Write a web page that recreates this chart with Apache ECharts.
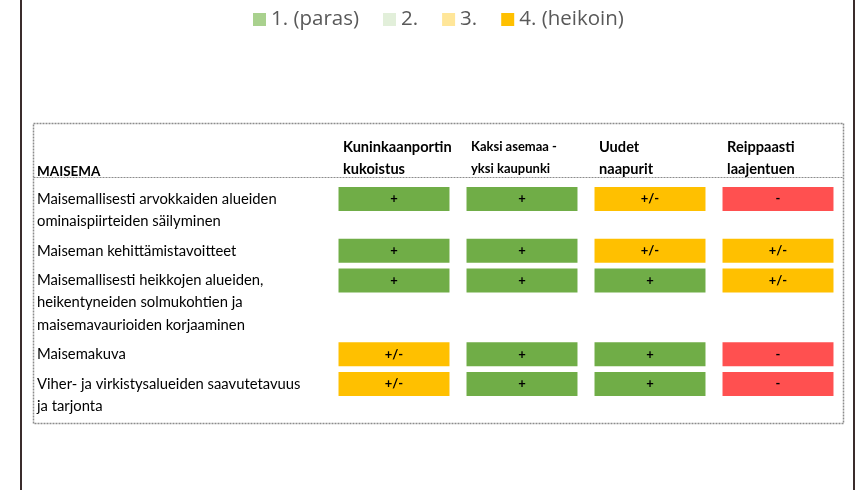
<!DOCTYPE html>
<html>
<head>
<meta charset="utf-8">
<script src="https://cdn.jsdelivr.net/npm/echarts@6/dist/echarts.min.js"></script>
<style>
  html, body { margin: 0; padding: 0; background: #fff; }
  #chart { width: 856px; height: 490px; }
</style>
</head>
<body>
<div id="chart"></div>
<script>
// legend classes
var legendNames = ['1. (paras)', '2.', '3.', '4. (heikoin)'];
var legendColors = ['#a9d18e', '#e2efda', '#ffe699', '#ffc000'];

// columns (scenarios)
var scenarios = ['Kuninkaanportin\nkukoistus', 'Kaksi asemaa -\nyksi kaupunki', 'Uudet\nnaapurit', 'Reippaasti\nlaajentuen'];

// rows, each split in its text lines
var criteria = [
  ['Maisemallisesti arvokkaiden alueiden', 'ominaispiirteiden säilyminen'],
  ['Maiseman kehittämistavoitteet'],
  ['Maisemallisesti heikkojen alueiden,', 'heikentyneiden solmukohtien ja', 'maisemavaurioiden korjaaminen'],
  ['Maisemakuva'],
  ['Viher- ja virkistysalueiden saavutetavuus', 'ja tarjonta']
];

// assessment per row, per scenario
var scores = [
  ['+', '+', '+/-', '-'],
  ['+', '+', '+/-', '+/-'],
  ['+', '+', '+', '+/-'],
  ['+/-', '+', '+', '-'],
  ['+/-', '+', '+', '-']
];

var scoreColors = { '+': '#70ad47', '+/-': '#ffc000', '-': '#ff5050' };

// y runs in text-line units; each row is its line count plus a small padding
var ROW_PAD = 1 / 3;
var LINE_PX = 22.18;
var textLines = [];
var cells = [];
var pos = 0;
criteria.forEach(function (row, r) {
  row.forEach(function (l, k) { textLines.push([0, pos + 0.5 + k, l]); });
  scores[r].forEach(function (s, c) { cells.push([c, pos + 0.5, s]); });
  pos += row.length + ROW_PAD;
});
var yMax = pos;

var chart = echarts.init(document.getElementById('chart'));

var legendSeries = legendNames.map(function (n, i) {
  return { name: n, type: 'bar', data: [], itemStyle: { color: legendColors[i] } };
});

var option = {
  backgroundColor: '#fff',
  animation: false,
  title: {
    text: 'MAISEMA',
    left: 32,
    top: 160,
    textStyle: { fontFamily: 'Lato', fontSize: 13.5, fontWeight: 'bold', color: '#000' }
  },
  legend: {
    top: 4,
    left: 248,
    icon: 'rect',
    itemWidth: 13,
    itemHeight: 13,
    itemGap: 24,
    textStyle: { fontFamily: 'Open Sans', fontSize: 20.5, color: '#595959' },
    data: legendNames
  },
  grid: { left: 330, width: 512, top: 188, height: yMax * LINE_PX },
  xAxis: {
    type: 'category',
    position: 'top',
    data: scenarios,
    axisLine: { show: false },
    axisTick: { show: false },
    splitLine: { show: false },
    axisLabel: {
      interval: 0,
      margin: 8,
      formatter: function (v) {
        var tag = v.indexOf('Kaksi') === 0 ? 'n' : 'b';
        return v.split('\n').map(function (p) { return '{' + tag + '|' + p + '}'; }).join('\n');
      },
      rich: {
        b: { width: 102, align: 'left', fontFamily: 'Lato', fontSize: 14.6, fontWeight: 'bold', color: '#000', lineHeight: 22 },
        n: { width: 102, align: 'left', fontFamily: 'Lato', fontSize: 13, fontWeight: 'bold', color: '#000', lineHeight: 22 }
      }
    }
  },
  yAxis: {
    type: 'value',
    inverse: true,
    min: 0,
    max: yMax,
    show: false
  },
  series: legendSeries.concat([{
    // cells
    type: 'custom',
    data: cells,
    renderItem: function (params, api) {
      var c = api.coord([api.value(0), api.value(1)]);
      var band = api.size([1, 0]);
      var w = band[0] * 0.867;
      var h = 24;
      var s = cells[params.dataIndex][2];
      return {
        type: 'group',
        children: [{
          type: 'rect',
          shape: { x: c[0] - w / 2, y: c[1] - h / 2, width: w, height: h },
          style: { fill: scoreColors[s] }
        }, {
          type: 'text',
          x: c[0],
          y: c[1],
          style: {
            text: s,
            align: 'center',
            verticalAlign: 'middle',
            font: 'bold 13px Lato',
            fill: '#000'
          }
        }]
      };
    }
  }, {
    // row labels
    type: 'custom',
    data: textLines,
    renderItem: function (params, api) {
      var c = api.coord([0, api.value(1)]);
      return {
        type: 'text',
        x: 37,
        y: c[1],
        style: {
          text: textLines[params.dataIndex][2],
          align: 'left',
          verticalAlign: 'middle',
          font: '14.8px Lato',
          fill: '#000'
        }
      };
    }
  }]),
  graphic: [
    { type: 'rect', shape: { x: 20, y: 0, width: 2, height: 490 }, style: { fill: '#3a2c2c' } },
    { type: 'rect', shape: { x: 853, y: 0, width: 2, height: 490 }, style: { fill: '#3a2c2c' } },
    { type: 'rect', shape: { x: 33.5, y: 123.5, width: 810, height: 300 },
      style: { fill: null, stroke: '#8c8c8c', lineWidth: 1.5, lineDash: [2, 1] } },
    { type: 'line', shape: { x1: 33.5, y1: 177.5, x2: 843.5, y2: 177.5 },
      style: { stroke: '#8c8c8c', lineWidth: 1, lineDash: [2, 1] } }
  ]
};

chart.setOption(option);
</script>
</body>
</html>
